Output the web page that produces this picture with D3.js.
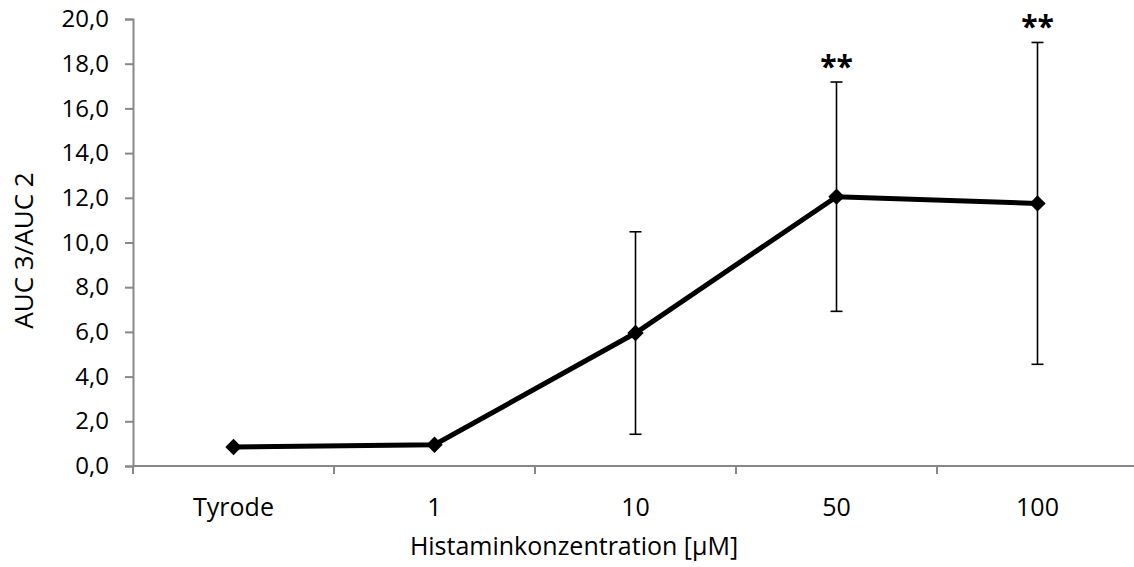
<!DOCTYPE html>
<html>
<head>
<meta charset="utf-8">
<script src="https://cdn.jsdelivr.net/npm/d3@7"></script>
<style>
  body { margin: 0; background: #fff; }
  svg text { font-family: "Open Sans", "Noto Sans", sans-serif; fill: #000; }
</style>
</head>
<body>
<div id="chart"></div>
<script>
const categories = ["Tyrode", "1", "10", "50", "100"];
const means = [0.85, 0.95, 5.95, 12.05, 11.75];
const errors = [0, 0, 4.53, 5.13, 7.2];
const stars = ["", "", "", "**", "**"];
const yTicks = [0, 2, 4, 6, 8, 10, 12, 14, 16, 18, 20];

const width = 1134, height = 567;
const margin = {top: 19, right: 0, bottom: 101, left: 133};

const svg = d3.select("#chart").append("svg")
    .attr("width", width)
    .attr("height", height);

const x = d3.scaleBand()
    .domain(categories)
    .range([margin.left, 1138]);

const y = d3.scaleLinear()
    .domain([0, 20])
    .range([height - margin.bottom, margin.top]);

const fmt = d => d.toFixed(1).replace(".", ",");

// y axis
const yAxis = svg.append("g")
    .attr("transform", `translate(${margin.left},0)`)
    .call(d3.axisLeft(y).tickValues(yTicks).tickFormat(fmt).tickSize(8).tickPadding(16));
yAxis.select(".domain").attr("stroke", "#888").attr("stroke-width", 2);
yAxis.selectAll(".tick line").attr("stroke", "#888").attr("stroke-width", 2);
yAxis.selectAll(".tick text").style("font-size", "24px");

// x axis: ticks at category boundaries
const xAxisG = svg.append("g")
    .attr("transform", `translate(0,${y(0)})`);
xAxisG.append("line")
    .attr("x1", margin.left).attr("x2", 1138)
    .attr("stroke", "#888").attr("stroke-width", 2);
xAxisG.selectAll(".xtick")
    .data(categories.map(c => x(c)).concat([x.range()[1]]))
    .enter().append("line")
    .attr("x1", d => d).attr("x2", d => d)
    .attr("y1", 0).attr("y2", 8)
    .attr("stroke", "#888").attr("stroke-width", 2);
xAxisG.selectAll(".xlabel")
    .data(categories)
    .enter().append("text")
    .attr("x", d => x(d) + x.bandwidth() / 2)
    .attr("y", 50)
    .attr("text-anchor", "middle")
    .style("font-size", "25px")
    .text(d => d);

// error bars
const pts = categories.map((c, i) => ({c, m: means[i], e: errors[i], s: stars[i]}));
const cx = d => x(d.c) + x.bandwidth() / 2;

const eb = svg.append("g").selectAll("g")
    .data(pts.filter(d => d.e > 0))
    .enter().append("g");
eb.append("line")
    .attr("x1", cx).attr("x2", cx)
    .attr("y1", d => y(d.m - d.e)).attr("y2", d => y(d.m + d.e))
    .attr("stroke", "#000").attr("stroke-width", 1.6);
eb.selectAll(".cap")
    .data(d => [d.m - d.e, d.m + d.e].map(v => ({c: d.c, v})))
    .enter().append("line")
    .attr("x1", d => cx(d) - 6).attr("x2", d => cx(d) + 6)
    .attr("y1", d => y(d.v)).attr("y2", d => y(d.v))
    .attr("stroke", "#000").attr("stroke-width", 1.6);

// line
svg.append("path")
    .datum(pts)
    .attr("fill", "none")
    .attr("stroke", "#000")
    .attr("stroke-width", 5)
    .attr("d", d3.line().x(cx).y(d => y(d.m)));

// markers
svg.append("g").selectAll("path")
    .data(pts)
    .enter().append("path")
    .attr("transform", d => `translate(${cx(d)},${y(d.m)})`)
    .attr("d", d3.symbol().type(d3.symbolDiamond2).size(170))
    .attr("fill", "#000");

// significance stars
svg.append("g").selectAll("text")
    .data(pts.filter(d => d.s))
    .enter().append("text")
    .attr("x", cx)
    .attr("y", d => y(d.m + d.e) - 5)
    .attr("text-anchor", "middle")
    .style("font-size", "30px")
    .style("font-weight", "bold")
    .text(d => d.s);

// axis titles
svg.append("text")
    .attr("transform", `translate(33,${(y(0) + y(20)) / 2 + 8}) rotate(-90)`)
    .attr("text-anchor", "middle")
    .style("font-size", "26px")
    .text("AUC 3/AUC 2");

svg.append("text")
    .attr("x", 574)
    .attr("y", 555)
    .attr("text-anchor", "middle")
    .style("font-size", "25px")
    .text("Histaminkonzentration [µM]");
</script>
</body>
</html>
